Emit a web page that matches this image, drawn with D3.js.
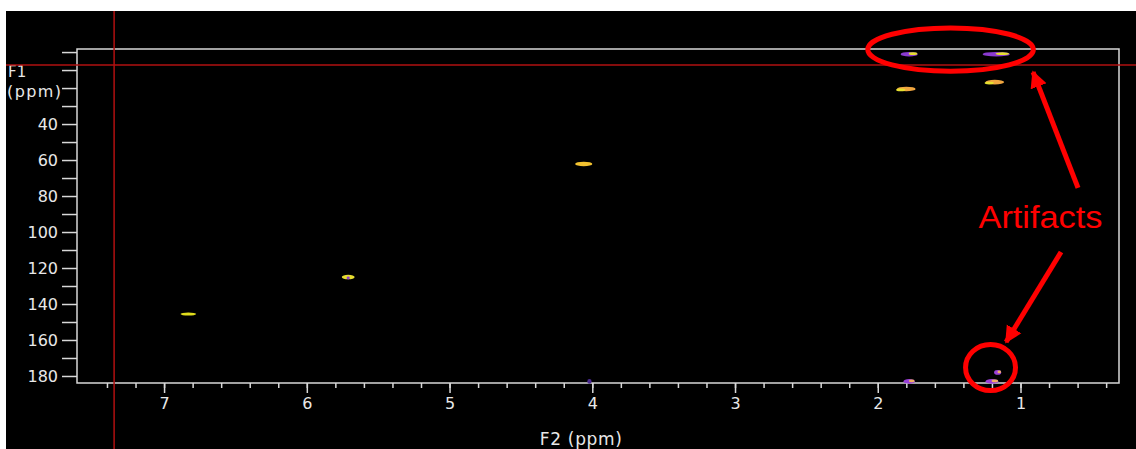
<!DOCTYPE html>
<html>
<head>
<meta charset="utf-8">
<script src="https://cdn.jsdelivr.net/npm/d3@7"></script>
<style>
  body { margin: 0; background: #ffffff; }
  .tick text { font-family: "DejaVu Sans", sans-serif; }
</style>
</head>
<body>
<script>
var width = 1136, height = 449;

// axis ticks
var f2Major = [1, 2, 3, 4, 5, 6, 7];
var f2Minor = d3.range(2, 38).map(function(i) { return i / 5; });
var f1Ticks = d3.range(0, 190, 10);
var f1Labels = [40, 60, 80, 100, 120, 140, 160, 180];

// peaks (ppm)
var peakF2    = [6.83, 5.71, 4.06, 1.78, 1.17, 1.80, 1.18, 1.16, 1.20, 1.78, 4.02];
var peakF1    = [145.6, 125.0, 62.2, 1.2, 1.2, 20.5, 16.7, 178.0, 183.0, 183.0, 183.0];
var peakWidth = [0.11, 0.09, 0.12, 0.12, 0.19, 0.13, 0.13, 0.05, 0.09, 0.08, 0.03];
var peakKind  = ["yellow", "speck", "gold", "mixed", "mixed", "orange", "orange", "artifact", "artifact", "artifact", "faint"];

// cursor position (ppm)
var cursorF2 = 7.35, cursorF1 = 7.2;

// annotation anchors (ppm)
var ellipseCenter = [1.49, -1.4], ellipseRadius = [0.58, 12];
var circleCenter = [1.21, 175.3], circleRadius = [0.175, 12.8];
var arrowTails = [[0.597, 75.5], [0.716, 111.1]];
var arrowTips  = [[0.912, 11.1], [1.101, 161.1]];
var labelAt = [0.86, 98];
var labelText = "Artifacts";

var svg = d3.select("body")
            .append("svg")
            .attr("width", width)
            .attr("height", height);

// black spectrum window
svg.append("rect")
   .attr("x", 6)
   .attr("y", 11)
   .attr("width", width - 6)
   .attr("height", height - 11)
   .attr("fill", "#000000");

var x = d3.scaleLinear().domain([7.61, 0.31]).range([77, 1119]);
var y = d3.scaleLinear().domain([-1.7, 183.9]).range([49, 383]);

var axisColor = "#d8d8d8";

// minor x ticks
svg.append("g")
   .attr("transform", "translate(0," + y.range()[1] + ")")
   .call(d3.axisBottom(x).tickValues(f2Minor).tickSize(5).tickFormat(""))
   .call(function(g) { g.select(".domain").remove(); });

// major x ticks
svg.append("g")
   .attr("transform", "translate(0," + y.range()[1] + ")")
   .call(d3.axisBottom(x).tickValues(f2Major).tickSize(10).tickPadding(5).tickFormat(d3.format("d")))
   .call(function(g) { g.select(".domain").remove(); });

// y ticks
svg.append("g")
   .attr("transform", "translate(" + x.range()[0] + ",0)")
   .call(d3.axisLeft(y).tickValues(f1Ticks).tickSize(15).tickPadding(4)
           .tickFormat(function(d) { return f1Labels.indexOf(d) >= 0 ? d : ""; }))
   .call(function(g) { g.select(".domain").remove(); });

svg.selectAll(".tick line").attr("stroke", axisColor).attr("stroke-width", 1.5);
svg.selectAll(".tick text").attr("fill", "#e8e8e8").attr("font-size", "16px");

// frame
svg.append("rect")
   .attr("x", x.range()[0])
   .attr("y", y.range()[0])
   .attr("width", x.range()[1] - x.range()[0])
   .attr("height", y.range()[1] - y.range()[0])
   .attr("fill", "none")
   .attr("stroke", axisColor)
   .attr("stroke-width", 1.5);

// axis titles
svg.append("text")
   .attr("x", 8).attr("y", 77)
   .attr("fill", "#e8e8e8")
   .attr("font-family", "DejaVu Sans, sans-serif")
   .attr("font-size", "15px")
   .text("F1");

svg.append("text")
   .attr("x", 7).attr("y", 97)
   .attr("fill", "#e8e8e8")
   .attr("font-family", "DejaVu Sans, sans-serif")
   .attr("font-size", "16px")
   .attr("textLength", 54)
   .text("(ppm)");

svg.append("text")
   .attr("x", x(4.08))
   .attr("y", 445)
   .attr("fill", "#e8e8e8")
   .attr("text-anchor", "middle")
   .attr("font-family", "DejaVu Sans, sans-serif")
   .attr("font-size", "17px")
   .attr("textLength", 82)
   .text("F2 (ppm)");

// peaks
var peaks = d3.range(peakF2.length).map(function(i) {
  return { f2: peakF2[i], f1: peakF1[i], w: peakWidth[i], kind: peakKind[i] };
});

var kindColor = {
  yellow: "#e0dc1c", speck: "#e6dc30", gold: "#f2c230", orange: "#f0a640",
  mixed: "#8a3ad0", artifact: "#9a40d8", faint: "#4a2a90"
};
var tailColor = {
  speck: "#9040c8", mixed: "#e6e030", artifact: "#f0b060", orange: "#e6e030"
};

var pg = svg.append("g").attr("class", "peaks");

pg.selectAll("ellipse.main")
  .data(peaks)
  .enter()
  .append("ellipse")
  .attr("class", "main")
  .attr("cx", function(d) { return x(d.f2); })
  .attr("cy", function(d) { return y(d.f1); })
  .attr("rx", function(d) { return Math.abs(x(0) - x(d.w)) / 2; })
  .attr("ry", function(d) { return d.kind == "yellow" ? 1.5 : 2.3; })
  .attr("fill", function(d) { return kindColor[d.kind]; });

// secondary colour patches inside the peaks
pg.selectAll("ellipse.tail")
  .data(peaks.filter(function(d) { return tailColor[d.kind]; }))
  .enter()
  .append("ellipse")
  .attr("class", "tail")
  .attr("cx", function(d) {
    var half = Math.abs(x(0) - x(d.w)) / 2;
    if (d.kind == "speck") return x(d.f2);
    return d.kind == "orange" ? x(d.f2) - half * 0.6 : x(d.f2) + half * 0.45;
  })
  .attr("cy", function(d) { return y(d.f1) + (d.kind == "orange" || d.kind == "speck" ? 1 : -0.5); })
  .attr("rx", function(d) { return Math.abs(x(0) - x(d.w)) / (d.kind == "speck" ? 8 : 4); })
  .attr("ry", 1.4)
  .attr("fill", function(d) { return tailColor[d.kind]; });

// cursor crosshair
svg.append("line")
   .attr("x1", x(cursorF2)).attr("x2", x(cursorF2))
   .attr("y1", 11).attr("y2", height)
   .attr("stroke", "#b01010").attr("stroke-width", 1.5);

svg.append("line")
   .attr("x1", 6).attr("x2", width)
   .attr("y1", y(cursorF1)).attr("y2", y(cursorF1))
   .attr("stroke", "#b01010").attr("stroke-width", 1.5);

// annotations
var red = "#ff0000";

svg.append("ellipse")
   .attr("cx", x(ellipseCenter[0]))
   .attr("cy", y(ellipseCenter[1]))
   .attr("rx", Math.abs(x(0) - x(ellipseRadius[0])))
   .attr("ry", Math.abs(y(0) - y(ellipseRadius[1])))
   .attr("fill", "none").attr("stroke", red).attr("stroke-width", 5);

svg.append("ellipse")
   .attr("cx", x(circleCenter[0]))
   .attr("cy", y(circleCenter[1]))
   .attr("rx", Math.abs(x(0) - x(circleRadius[0])))
   .attr("ry", Math.abs(y(0) - y(circleRadius[1])))
   .attr("fill", "none").attr("stroke", red).attr("stroke-width", 5);

svg.append("defs")
   .append("marker")
   .attr("id", "head")
   .attr("viewBox", "0 0 10 10")
   .attr("refX", 9).attr("refY", 5)
   .attr("markerWidth", 3.4).attr("markerHeight", 3.6)
   .attr("markerUnits", "strokeWidth")
   .attr("orient", "auto")
   .append("path")
   .attr("d", "M0,0 L10,5 L0,10 Z")
   .attr("fill", red);

svg.selectAll("line.arrow")
   .data(d3.range(arrowTails.length))
   .enter()
   .append("line")
   .attr("class", "arrow")
   .attr("x1", function(i) { return x(arrowTails[i][0]); })
   .attr("y1", function(i) { return y(arrowTails[i][1]); })
   .attr("x2", function(i) { return x(arrowTips[i][0]); })
   .attr("y2", function(i) { return y(arrowTips[i][1]); })
   .attr("stroke", red)
   .attr("stroke-width", 5)
   .attr("marker-end", "url(#head)");

svg.append("text")
   .attr("x", x(labelAt[0]))
   .attr("y", y(labelAt[1]))
   .attr("text-anchor", "middle")
   .attr("fill", red)
   .attr("font-family", "Liberation Sans, Arial, sans-serif")
   .attr("font-size", "32px")
   .attr("textLength", 124)
   .attr("lengthAdjust", "spacingAndGlyphs")
   .text(labelText);
</script>
</body>
</html>
